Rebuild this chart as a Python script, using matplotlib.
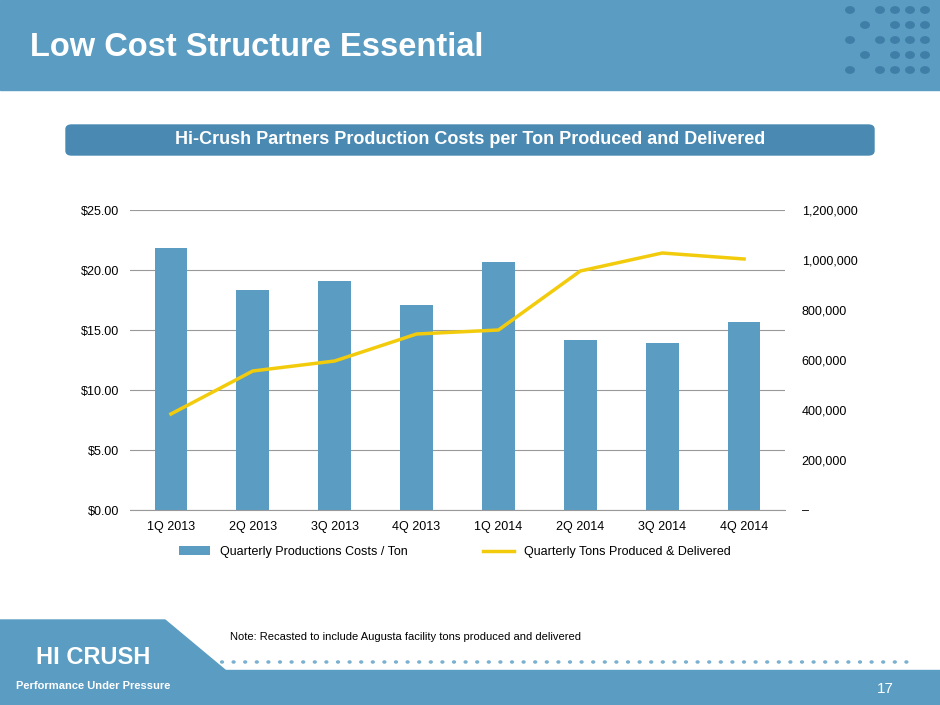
import matplotlib
matplotlib.use("Agg")
import matplotlib.pyplot as plt
from matplotlib.patches import Rectangle, FancyBboxPatch, Polygon, Circle

plt.rcParams['font.family'] = ['Liberation Sans', 'DejaVu Sans']

categories = ["1Q 2013", "2Q 2013", "3Q 2013", "4Q 2013", "1Q 2014", "2Q 2014", "3Q 2014", "4Q 2014"]
costs = [21.8, 18.3, 19.1, 17.1, 20.7, 14.2, 13.9, 15.7]
tons = [384000, 556000, 596000, 704000, 720000, 956000, 1028000, 1004000]

W, H = 940, 705
fig = plt.figure(figsize=(9.4, 7.05), dpi=100)
blue = "#5a9cc2"
dark = "#4a8ab2"

def fx(x): return x / W
def fy(y): return 1 - y / H

fig.patches.append(Rectangle((0, fy(90)), 1, 90 / H, transform=fig.transFigure, color=blue, zorder=0))
for r in range(5):
    for c in range(6):
        xx, yy = 850 + c * 15, 10 + r * 15
        if (c + r) % 2 == 0 or c > 2:
            fig.patches.append(Circle((fx(xx), fy(yy)), 0.0045, transform=fig.transFigure, color="#3f7ea6", zorder=1))
fig.text(fx(30), fy(48), "Low Cost Structure Essential", color="white", fontsize=23.5, fontweight="bold", va="center", ha="left")

fig.patches.append(FancyBboxPatch((fx(66), fy(155)), (874 - 66) / W, 30 / H, boxstyle="round,pad=0,rounding_size=0.006",
                                  transform=fig.transFigure, color=dark, zorder=0))
fig.text(fx(470), fy(140), "Hi-Crush Partners Production Costs per Ton Produced and Delivered", color="white",
         fontsize=13, fontweight="bold", ha="center", va="center")

fig.patches.append(Rectangle((0, 0), 1, 35 / H, transform=fig.transFigure, color=blue, zorder=0))
fig.patches.append(Polygon([(0, fy(620)), (fx(165), fy(620)), (fx(225), fy(670)), (fx(225), 0), (0, 0)],
                           closed=True, transform=fig.transFigure, color=blue, zorder=0))
for i in range(60):
    xx = 222 + i * 11.6
    fig.patches.append(Circle((fx(xx), fy(662)), 0.0015, transform=fig.transFigure, color="#7ab0d0", zorder=1))
fig.text(fx(93), fy(657), "HI CRUSH", color="white", fontsize=17, fontweight="bold", ha="center", va="center")
fig.text(fx(93), fy(686), "Performance Under Pressure", color="white", fontsize=8, fontweight="bold", ha="center", va="center")
fig.text(fx(885), fy(689), "17", color="white", fontsize=11, ha="center", va="center")
fig.text(fx(230), fy(637), "Note: Recasted to include Augusta facility tons produced and delivered", fontsize=8, ha="left", va="center")

ax = fig.add_axes([fx(130), fy(510), (785 - 130) / W, 300 / H])
x = list(range(len(categories)))
ax.bar(x, costs, width=0.4, color=blue, label="Quarterly Productions Costs / Ton", zorder=2)
ax.set_ylim(0, 25)
ax.set_xlim(-0.5, 7.5)
ax.set_yticks([0, 5, 10, 15, 20, 25])
ax.set_yticklabels([f"${v:.2f}" for v in [0, 5, 10, 15, 20, 25]])
ax.set_xticks(x)
ax.set_xticklabels(categories)
ax.grid(axis="y", color="#999999", linewidth=0.8, zorder=0)
for s in ["top", "right", "left"]:
    ax.spines[s].set_visible(False)
ax.spines["bottom"].set_color("#999999")
ax.tick_params(length=0, labelsize=9, pad=8)

ax2 = ax.twinx()
ax2.plot(x, tons, color="#f2cc0c", linewidth=2.5, label="Quarterly Tons Produced & Delivered", zorder=3)
ax2.set_ylim(0, 1200000)
ax2.set_yticks(range(0, 1200001, 200000))
ax2.set_yticklabels(["–"] + [f"{v:,}" for v in range(200000, 1200001, 200000)])
for s in ax2.spines.values():
    s.set_visible(False)
ax2.tick_params(length=0, labelsize=9, pad=12)

h1, l1 = ax.get_legend_handles_labels()
h2, l2 = ax2.get_legend_handles_labels()
fig.legend(h1 + h2, l1 + l2, loc="center", bbox_to_anchor=(fx(455), fy(552)), ncol=2, frameon=False,
           fontsize=9, columnspacing=6, handlelength=2.5)

fig.savefig("out.png", dpi=100)
